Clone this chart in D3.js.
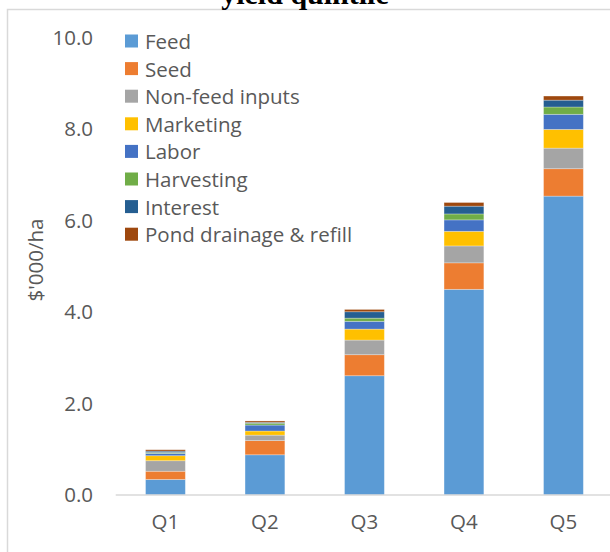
<!DOCTYPE html>
<html>
<head>
<meta charset="utf-8">
<script src="https://cdn.jsdelivr.net/npm/d3@7/dist/d3.min.js"></script>
<style>
  html, body { margin: 0; padding: 0; background: #fff; }
  svg { display: block; }
</style>
</head>
<body>
<svg id="chart" width="610" height="552"></svg>
<script>
// ---- Data ----
const categories = ["Q1", "Q2", "Q3", "Q4", "Q5"];
const seriesNames = ["Feed", "Seed", "Non-feed inputs", "Marketing", "Labor", "Harvesting", "Interest", "Pond drainage & refill"];
const feed       = [0.34, 0.88, 2.61, 4.50, 6.54];
const seed       = [0.18, 0.31, 0.46, 0.58, 0.60];
const nonFeed    = [0.23, 0.12, 0.32, 0.37, 0.45];
const marketing  = [0.11, 0.09, 0.24, 0.32, 0.41];
const labor      = [0.05, 0.13, 0.17, 0.25, 0.33];
const harvesting = [0.02, 0.04, 0.07, 0.13, 0.16];
const interest   = [0.03, 0.02, 0.14, 0.17, 0.15];
const pond       = [0.03, 0.03, 0.05, 0.08, 0.09];
const yTicks = [0, 2, 4, 6, 8, 10];
const colors = ["#5B9BD5", "#ED7D31", "#A5A5A5", "#FFC000", "#4472C4", "#70AD47", "#255E91", "#9E480E"];

const seriesValues = [feed, seed, nonFeed, marketing, labor, harvesting, interest, pond];
const table = categories.map((c, i) => {
  const row = { cat: c };
  seriesNames.forEach((s, j) => row[s] = seriesValues[j][i]);
  return row;
});

// ---- Layout ----
const svg = d3.select("#chart");
const textColor = "#595959";
const font = "'Open Sans', 'Noto Sans', sans-serif";
const fs = 20.5;

// chart frame
svg.append("path")
  .attr("d", "M7.5,552 L7.5,9.5 L612,9.5")
  .attr("fill", "none").attr("stroke", "#d9d9d9").attr("stroke-width", 1.5);

// partial title (cut off at top, as in the reference)
svg.append("text")
  .attr("x", 305).attr("y", 3.5)
  .attr("text-anchor", "middle")
  .attr("font-family", "'Liberation Serif', 'Times New Roman', serif")
  .attr("font-size", 30)
  .attr("font-weight", "bold")
  .attr("fill", "#000")
  .text("yield quintile");

const x = d3.scaleBand().domain(categories).range([115.7, 613.2]).paddingInner(0.6).paddingOuter(0.3);
const y = d3.scaleLinear().domain([0, 10]).range([495, 38]);

const stacked = d3.stack().keys(seriesNames)(table);

const g = svg.append("g");
g.selectAll("g.series").data(stacked).join("g")
  .attr("class", "series")
  .attr("fill", (d, i) => colors[i])
  .selectAll("rect").data(d => d).join("rect")
  .attr("x", d => x(d.data.cat))
  .attr("width", x.bandwidth())
  .attr("y", d => y(d[1]))
  .attr("height", d => y(d[0]) - y(d[1]))
  .attr("stroke", "#ffffff").attr("stroke-opacity", 0.35).attr("stroke-width", 0.8);

// x axis
const xAxis = svg.append("g").attr("transform", "translate(0,495)")
  .call(d3.axisBottom(x).tickSize(0).tickPadding(19));
xAxis.select(".domain").attr("stroke", "#d9d9d9").attr("stroke-width", 1.5)
  .attr("d", "M115.7,0H613");
xAxis.selectAll("text").attr("font-family", font).attr("font-size", fs).attr("fill", textColor);

// y axis
const yAxis = svg.append("g").attr("transform", "translate(93,0)")
  .call(d3.axisLeft(y).tickValues(yTicks).tickFormat(d3.format(".1f")).tickSize(0).tickPadding(0));
yAxis.select(".domain").remove();
yAxis.selectAll("text").attr("font-family", font).attr("font-size", fs).attr("fill", textColor);

// y title
svg.append("text")
  .attr("transform", "translate(35,260) rotate(-90)")
  .attr("text-anchor", "middle").attr("dominant-baseline", "central")
  .attr("font-family", font).attr("font-size", fs).attr("fill", textColor)
  .text("$'000/ha");

// legend
const legend = svg.append("g");
const items = legend.selectAll("g").data(seriesNames).join("g")
  .attr("transform", (d, i) => `translate(125,${41 + i * 27.6})`);
items.append("rect").attr("x", 0).attr("y", -6.5).attr("width", 13).attr("height", 13)
  .attr("fill", (d, i) => colors[i]);
items.append("text").attr("x", 20).attr("y", 0).attr("dominant-baseline", "central")
  .attr("font-family", font).attr("font-size", fs).attr("fill", textColor)
  .text(d => d);
</script>
</body>
</html>
